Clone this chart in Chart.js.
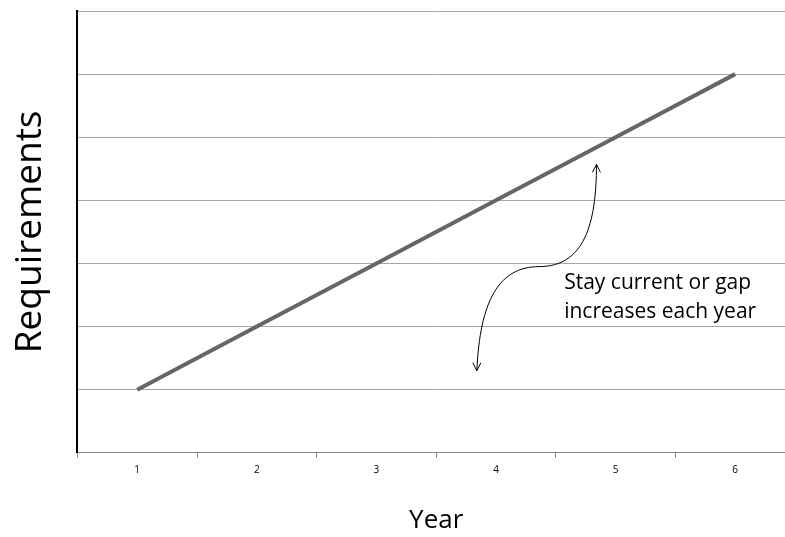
<!DOCTYPE html>
<html>
<head>
<meta charset="utf-8">
<script src="https://cdn.jsdelivr.net/npm/chart.js@4/dist/chart.umd.min.js"></script>
<style>
  html, body { margin: 0; padding: 0; background: #fff; overflow: hidden; }
  #wrap { width: 795px; height: 537px; }
</style>
</head>
<body>
<div id="wrap"><canvas id="chart"></canvas></div>
<script>
// data
const years = ['1', '2', '3', '4', '5', '6'];
const requirements = [1, 2, 3, 4, 5, 6];
const noteLines = ['Stay current or gap', 'increases each year'];
// arrow path in data units: bottom tip, curve middle, top tip
const arrowX = [3.84, 4.36, 4.84];
const arrowY = [1.30, 2.95, 4.57];

const font = "'Open Sans', 'Liberation Sans', sans-serif";

// draws the curved double headed arrow and its note
const notePlugin = {
  id: 'note',
  afterDatasetsDraw(chart) {
    const c = chart.ctx;
    const xs = chart.scales.x, ys = chart.scales.y;
    const px = v => xs.getPixelForValue(v - 1);
    const py = v => ys.getPixelForValue(v);
    const x0 = px(arrowX[0]), y0 = py(arrowY[0]);
    const x1 = px(arrowX[1]), y1 = py(arrowY[1]);
    const x2 = px(arrowX[2]), y2 = py(arrowY[2]);

    c.save();
    c.strokeStyle = '#000';
    c.lineWidth = 1;
    c.beginPath();
    c.moveTo(x0, y0);
    c.bezierCurveTo(x0 + 3, y0 - 70, x1 - 40, y1, x1, y1);
    c.bezierCurveTo(x1 + 45, y1, x2, y2 + 60, x2, y2);
    c.stroke();

    const head = (x, y, dir) => {
      c.beginPath();
      c.moveTo(x - 4, y - dir * 8);
      c.lineTo(x, y);
      c.lineTo(x + 4, y - dir * 8);
      c.stroke();
    };
    head(x0, y0, 1);
    head(x2, y2, -1);

    c.fillStyle = '#000';
    c.font = '21px ' + font;
    c.textBaseline = 'alphabetic';
    const tx = px(4.57);
    noteLines.forEach((t, i) => c.fillText(t, tx, py(2.60) + i * 29));
    c.restore();
  }
};

new Chart(document.getElementById('chart'), {
  type: 'line',
  data: {
    labels: years,
    datasets: [{
      data: requirements,
      borderColor: '#666666',
      borderWidth: 4,
      pointRadius: 0,
      tension: 0,
      fill: false
    }]
  },
  options: {
    responsive: true,
    maintainAspectRatio: false,
    animation: false,
    layout: { padding: { top: 11, right: 0, left: 8, bottom: 1 } },
    plugins: { legend: { display: false }, tooltip: { enabled: false } },
    scales: {
      x: {
        offset: true,
        grid: { offset: true, drawOnChartArea: false, drawTicks: true, tickLength: 5, color: '#888' },
        border: { color: '#888', width: 1 },
        ticks: { color: '#000', font: { family: font, size: 10 }, padding: 6 },
        title: { display: true, text: 'Year', color: '#000', font: { family: font, size: 26 }, padding: { top: 23, bottom: 0 } }
      },
      y: {
        min: 0,
        max: 7,
        ticks: { display: false, stepSize: 1 },
        grid: { color: '#a6a6a6', drawTicks: false, lineWidth: 1 },
        border: { color: '#000', width: 2 },
        title: { display: true, text: 'Requirements', color: '#000', font: { family: font, size: 37 }, padding: { top: 0, bottom: 25 } }
      }
    }
  },
  plugins: [notePlugin]
});
</script>
</body>
</html>
